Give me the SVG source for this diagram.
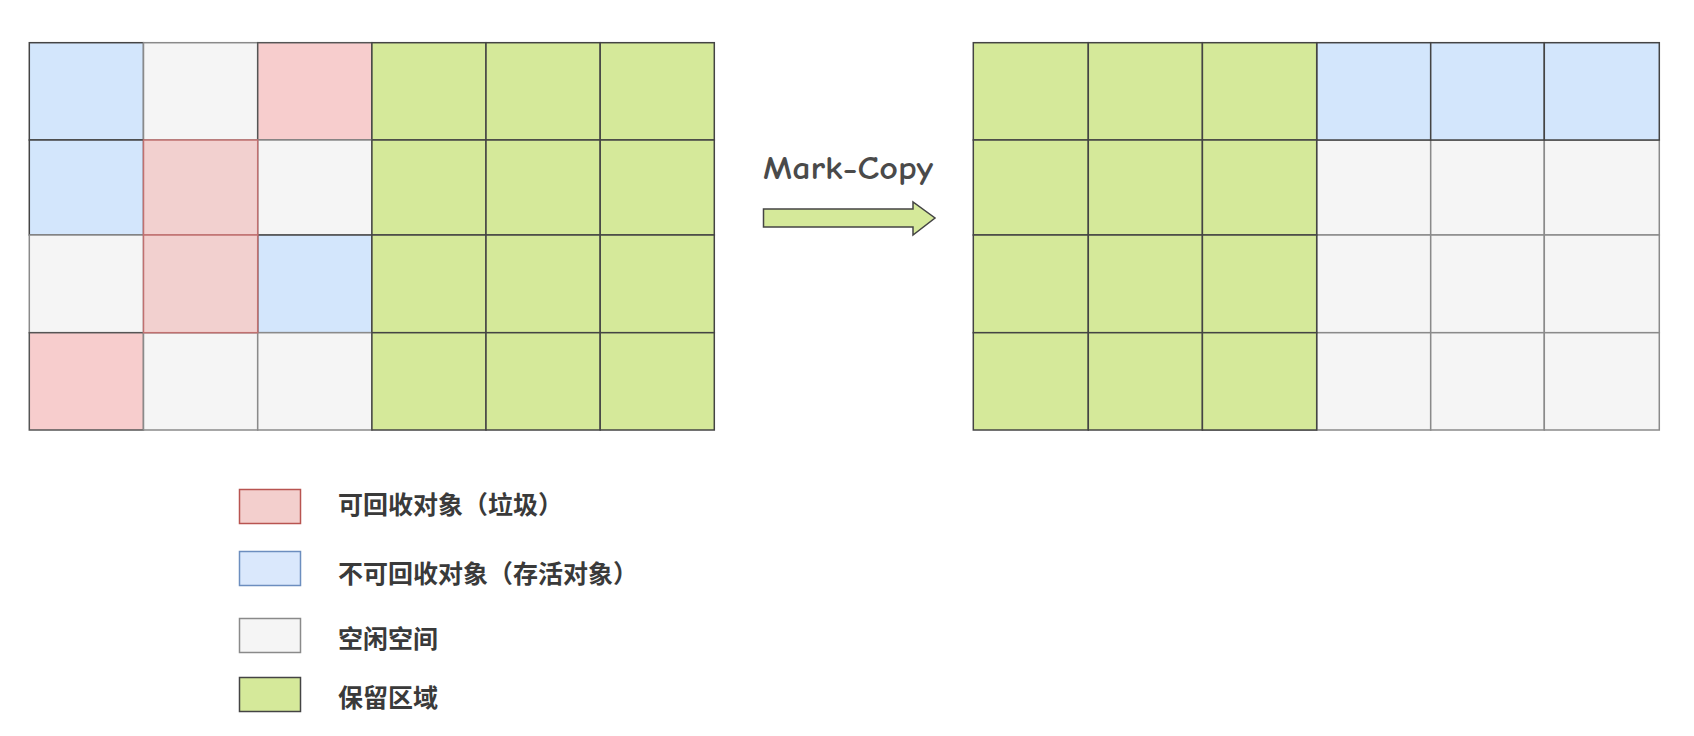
<svg xmlns="http://www.w3.org/2000/svg" width="1694" height="736" viewBox="0 0 1694 736">
<style>
.c{stroke-width:1.5}
.g{fill:#d5e99a;stroke:#444}
.b{fill:#d3e6fc;stroke:#444}
.w{fill:#f5f5f5;stroke:#8a8a8a}
.r{fill:#f7cdcd;stroke:#555}
.rr{fill:#f2d0cf;stroke:#c07070}
.lbl{font-family:"Noto Sans CJK SC","Noto Sans",sans-serif;font-size:25px;font-weight:bold;fill:#3a3a3a}
.title{font-family:"Comic Sans MS","Comic Neue","DejaVu Sans",sans-serif;font-size:33px;font-weight:bold;fill:#4a4a4a}
</style>
<rect width="1694" height="736" fill="#fff"/>
<g id="left-grid" class="c">
<rect class="b" x="29.3" y="42.7" width="114.2" height="97.3"/>
<rect class="w" x="143.5" y="42.7" width="114.2" height="97.3"/>
<rect class="r" x="257.7" y="42.7" width="114.2" height="97.3"/>
<rect class="g" x="371.9" y="42.7" width="114.1" height="97.3"/>
<rect class="g" x="486" y="42.7" width="114.2" height="97.3"/>
<rect class="g" x="600.2" y="42.7" width="114.1" height="97.3"/>
<rect class="b" x="29.3" y="140" width="114.2" height="95"/>
<rect class="w" x="257.7" y="140" width="114.2" height="95"/>
<rect class="g" x="371.9" y="140" width="114.1" height="95"/>
<rect class="g" x="486" y="140" width="114.2" height="95"/>
<rect class="g" x="600.2" y="140" width="114.1" height="95"/>
<rect class="w" x="29.3" y="235" width="114.2" height="97.7"/>
<rect class="b" x="257.7" y="235" width="114.2" height="97.7"/>
<rect class="g" x="371.9" y="235" width="114.1" height="97.7"/>
<rect class="g" x="486" y="235" width="114.2" height="97.7"/>
<rect class="g" x="600.2" y="235" width="114.1" height="97.7"/>
<rect class="r" x="29.3" y="332.7" width="114.2" height="97.3"/>
<rect class="w" x="143.5" y="332.7" width="114.2" height="97.3"/>
<rect class="w" x="257.7" y="332.7" width="114.2" height="97.3"/>
<rect class="g" x="371.9" y="332.7" width="114.1" height="97.3"/>
<rect class="g" x="486" y="332.7" width="114.2" height="97.3"/>
<rect class="g" x="600.2" y="332.7" width="114.1" height="97.3"/>
<rect class="rr" x="143.5" y="140" width="114.2" height="95"/>
<rect class="rr" x="143.5" y="235" width="114.2" height="97.7"/>
</g>
<g id="right-grid" class="c">
<rect class="w" x="1202.4" y="140" width="114.3" height="95"/>
<rect class="w" x="1316.7" y="140" width="114" height="95"/>
<rect class="w" x="1430.7" y="140" width="113.6" height="95"/>
<rect class="w" x="1544.3" y="140" width="115" height="95"/>
<rect class="w" x="1202.4" y="235" width="114.3" height="97.7"/>
<rect class="w" x="1316.7" y="235" width="114" height="97.7"/>
<rect class="w" x="1430.7" y="235" width="113.6" height="97.7"/>
<rect class="w" x="1544.3" y="235" width="115" height="97.7"/>
<rect class="w" x="1202.4" y="332.7" width="114.3" height="97.3"/>
<rect class="w" x="1316.7" y="332.7" width="114" height="97.3"/>
<rect class="w" x="1430.7" y="332.7" width="113.6" height="97.3"/>
<rect class="w" x="1544.3" y="332.7" width="115" height="97.3"/>
<rect class="b" x="1316.7" y="42.7" width="114" height="97.3"/>
<rect class="b" x="1430.7" y="42.7" width="113.6" height="97.3"/>
<rect class="b" x="1544.3" y="42.7" width="115" height="97.3"/>
<rect class="g" x="973.3" y="42.7" width="115" height="97.3"/>
<rect class="g" x="1088.3" y="42.7" width="114.1" height="97.3"/>
<rect class="g" x="1202.4" y="42.7" width="114.3" height="97.3"/>
<rect class="g" x="973.3" y="140" width="115" height="95"/>
<rect class="g" x="1088.3" y="140" width="114.1" height="95"/>
<rect class="g" x="1202.4" y="140" width="114.3" height="95"/>
<rect class="g" x="973.3" y="235" width="115" height="97.7"/>
<rect class="g" x="1088.3" y="235" width="114.1" height="97.7"/>
<rect class="g" x="1202.4" y="235" width="114.3" height="97.7"/>
<rect class="g" x="973.3" y="332.7" width="115" height="97.3"/>
<rect class="g" x="1088.3" y="332.7" width="114.1" height="97.3"/>
<rect class="g" x="1202.4" y="332.7" width="114.3" height="97.3"/>
</g>
<g id="connectors">
<g id="mark-copy-arrow">
<polygon points="763.5,209 913,209 913,202 935,218 913,235 913,227 763.5,227" fill="#d5e99a" stroke="#444" stroke-width="1.5" stroke-linejoin="miter"/>
<text class="title" x="763" y="179" textLength="170" lengthAdjust="spacingAndGlyphs">Mark-Copy</text>
</g>
</g>
<g id="legend">
<g id="legend-garbage">
<rect x="239.5" y="489.5" width="61" height="34" fill="#f3cfcd" stroke="#b85450" stroke-width="1.5"/>
<text class="lbl" x="338" y="514">可回收对象（垃圾）</text>
</g>
<g id="legend-live">
<rect x="239.5" y="551.5" width="61" height="34" fill="#dae8fc" stroke="#6c8ebf" stroke-width="1.5"/>
<text class="lbl" x="338" y="583">不可回收对象（存活对象）</text>
</g>
<g id="legend-free">
<rect x="239.5" y="618.5" width="61" height="34" fill="#f5f5f5" stroke="#8a8a8a" stroke-width="1.5"/>
<text class="lbl" x="338" y="648">空闲空间</text>
</g>
<g id="legend-reserved">
<rect x="239.5" y="677.5" width="61" height="34" fill="#d5e99a" stroke="#444" stroke-width="1.5"/>
<text class="lbl" x="338" y="707">保留区域</text>
</g>
</g>
</svg>
